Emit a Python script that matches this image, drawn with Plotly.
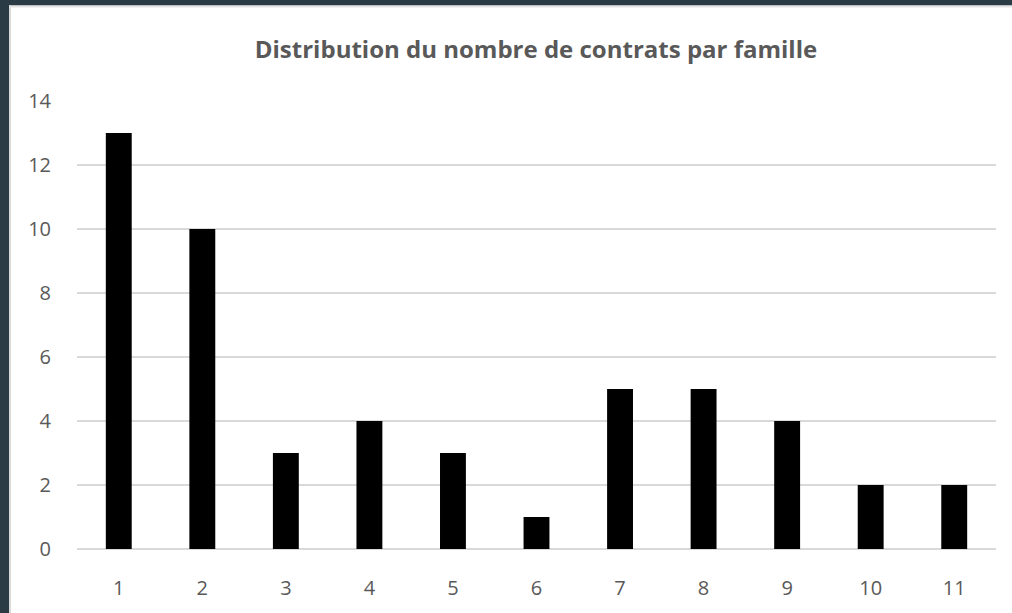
import plotly.graph_objects as go

categories = ["1", "2", "3", "4", "5", "6", "7", "8", "9", "10", "11"]
values = [13, 10, 3, 4, 3, 1, 5, 5, 4, 2, 2]
y_ticks = [0, 2, 4, 6, 8, 10, 12, 14]
title_text = "Distribution du nombre de contrats par famille"

W, H = 1012, 613
L, R, T, B = 77, 16, 101, 62
pw, ph = W - L - R, H - T - B


def px_x(x):
    return (x - L) / pw


def px_y(y):
    return 1 - (y - T) / ph


fig = go.Figure(go.Bar(
    x=categories, y=values, marker=dict(color="#000000", line=dict(width=0)),
    width=0.31, hoverinfo="x+y",
))

dark = "#2b3b45"
shapes = [
    dict(type="rect", xref="paper", yref="paper", x0=px_x(-5), x1=px_x(9), y0=px_y(620), y1=px_y(-5),
         fillcolor=dark, line=dict(width=0), layer="below"),
    dict(type="rect", xref="paper", yref="paper", x0=px_x(-5), x1=px_x(1020), y0=px_y(5), y1=px_y(-5),
         fillcolor=dark, line=dict(width=0), layer="below"),
    dict(type="rect", xref="paper", yref="paper", x0=px_x(9), x1=px_x(11), y0=px_y(620), y1=px_y(5),
         fillcolor="#d9d9d9", line=dict(width=0), layer="below"),
    dict(type="rect", xref="paper", yref="paper", x0=px_x(9), x1=px_x(1020), y0=px_y(7), y1=px_y(5),
         fillcolor="#e3e3e3", line=dict(width=0), layer="below"),
]

fig.update_layout(
    width=W, height=H,
    margin=dict(l=L, r=R, t=T, b=B, pad=0),
    paper_bgcolor="#ffffff", plot_bgcolor="#ffffff",
    shapes=shapes,
    showlegend=False,
    title=dict(text="<b>" + title_text + "</b>", x=px_x(536), xanchor="center", xref="paper",
               y=1 - 50 / H, yanchor="middle", yref="container",
               font=dict(family="Open Sans", size=24, color="#595959")),
    font=dict(family="Open Sans", size=20, color="#595959"),
    xaxis=dict(type="category", range=[-0.5, 10.5], showgrid=False, showline=False, zeroline=False,
               ticks="outside", ticklen=21, tickcolor="rgba(0,0,0,0)",
               tickfont=dict(family="Open Sans", size=20, color="#595959")),
    yaxis=dict(range=[0, 14], tickvals=y_ticks, showgrid=True, gridcolor="#d9d9d9", gridwidth=1.5,
               zeroline=True, zerolinecolor="#d9d9d9", zerolinewidth=1.5, showline=False,
               ticks="outside", ticklen=21, tickcolor="rgba(0,0,0,0)",
               tickfont=dict(family="Open Sans", size=20, color="#595959")),
)

fig.write_html("out.html", config={"displayModeBar": False},
               post_script="document.body.style.margin='0';document.body.style.overflow='hidden';")
